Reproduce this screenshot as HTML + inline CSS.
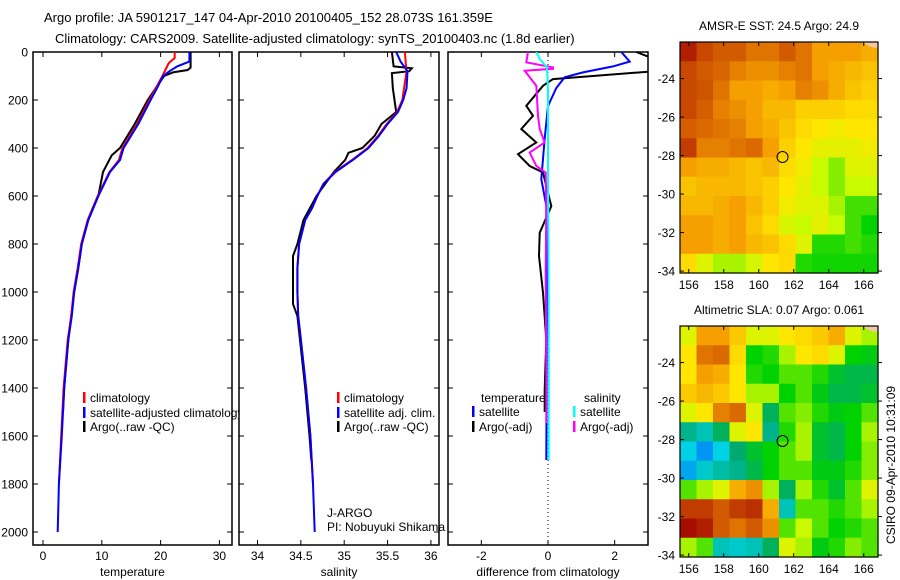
<!DOCTYPE html>
<html><head><meta charset="utf-8">
<style>
html,body{margin:0;padding:0;background:#fff;}
svg{display:block;font-family:"Liberation Sans",sans-serif;}
</style></head>
<body>
<svg id="fig" width="900" height="580" viewBox="0 0 900 580" xmlns="http://www.w3.org/2000/svg">
<defs>
<clipPath id="c1"><rect x="33" y="52" width="199" height="493"/></clipPath>
<clipPath id="c2"><rect x="239" y="52" width="200" height="493"/></clipPath>
<clipPath id="c3"><rect x="448" y="52" width="200" height="493"/></clipPath>
<clipPath id="cl1"><rect x="0" y="0" width="239" height="580"/></clipPath>
<clipPath id="cl2"><rect x="0" y="0" width="448" height="580"/></clipPath>
</defs>
<text x="44" y="22" font-size="13">Argo profile: JA 5901217_147 04-Apr-2010 20100405_152 28.073S 161.359E</text>
<text x="55" y="43" font-size="13">Climatology: CARS2009. Satellite-adjusted climatology: synTS_20100403.nc (1.8d earlier)</text>
<g id="layer"></g>
</svg>
<script>
// ---------- data ----------
const depthTicks = [0,200,400,600,800,1000,1200,1400,1600,1800,2000];
const tempTicks = [0,10,20,30];
const salTicks = [34,34.5,35,35.5,36];
const diffTicks = [-2,0,2];

const tClimDepth = [0,25,46,100,150,200,300,400,450,500,600,700,800,900,1000,1100,1200,1400,1600,1800];
const tClimVal   = [22.4,22.4,21.4,20.3,19.2,18.1,16.0,13.5,12.9,11.3,9.3,7.6,6.5,5.9,5.2,4.8,4.2,3.5,3.1,2.7];
const tSatDepth = [0,40,60,82,100,150,200,300,400,450,500,600,700,800,900,1000,1100,1200,1400,1600,1800,2000];
const tSatVal   = [24.9,24.9,22.8,21.4,20.4,19.4,18.3,16.2,13.7,13.1,11.4,9.4,7.7,6.6,6.0,5.3,4.9,4.3,3.6,3.2,2.7,2.5];
const tArgoDepth = [0,65,75,85,100,150,200,300,400,430,500,600,700,800,900,1000,1200,1400,1500];
const tArgoVal   = [25.1,25.1,24.6,22.1,20.6,19.2,17.8,15.6,13.1,11.7,10.2,9.4,7.7,6.6,6.0,5.3,4.3,3.6,3.4];

const sClimDepth = [0,50,80,200,250,300,350,400,450,500,550,600,650,700,800,900,1000,1100,1200,1400,1600,1800];
const sClimVal   = [35.70,35.71,35.72,35.67,35.61,35.49,35.39,35.27,35.09,34.89,34.76,34.69,34.63,34.55,34.48,34.46,34.46,34.47,34.5,34.56,34.61,34.64];
const sSatDepth = [0,40,80,150,200,250,300,350,400,450,500,550,600,650,700,800,900,1000,1100,1200,1400,1600,1800,2000];
const sSatVal   = [35.6,35.65,35.73,35.72,35.68,35.62,35.5,35.4,35.28,35.1,34.9,34.76,34.69,34.63,34.55,34.48,34.46,34.46,34.47,34.5,34.56,34.61,34.64,34.66];
const sArgoDepth = [0,60,68,80,88,150,250,300,350,400,420,450,500,550,600,700,800,850,1050,1100,1200,1400,1600,1700];
const sArgoVal   = [35.55,35.57,35.78,35.75,35.55,35.56,35.6,35.43,35.35,35.21,35.05,35.01,34.88,34.78,34.68,34.53,34.46,34.41,34.41,34.46,34.49,34.55,34.6,34.62];

const dTSatDepth = [0,40,60,85,105,150,225,360,530,640,920,1700];
const dTSatVal   = [2.2,2.45,1.95,1.05,0.5,0.25,0.0,-0.1,-0.2,-0.05,-0.03,-0.05];
const dTArgoDepth = [0,30,62,80,113,141,224,266,321,377,426,475,502,642,753,850,1003,1198,1407,1500];
const dTArgoVal   = [2.65,3.2,3.2,3.2,0.15,-0.15,-0.65,-0.45,-0.8,-0.35,-0.9,-0.55,-0.15,0.1,-0.25,-0.27,-0.15,-0.05,-0.1,-0.1];
const dSSatDepth = [0,29,64,150,500,1000,1700];
const dSSatVal   = [-0.35,-0.25,-0.03,0.0,0.0,0.02,0.02];
const dSArgoDepth = [0,43,64,70,78,141,266,321,377,419,475,502,642,920,1337,1546];
const dSArgoVal   = [-0.6,-0.65,0.15,0.15,-0.7,-0.35,-0.3,-0.25,-0.1,-0.55,-0.35,-0.07,-0.05,-0.07,-0.05,-0.05];

const lonTicks = [156,158,160,162,164,166];
const latTicks = [-24,-26,-28,-30,-32,-34];
const sstGrid = [
[0.95,0.88,0.85,0.85,0.8,0.8,0.85,0.8,0.72,0.72,0.72,0.7],
[0.88,0.85,0.83,0.78,0.75,0.75,0.78,0.8,0.72,0.7,0.68,0.66],
[0.88,0.86,0.8,0.72,0.72,0.7,0.72,0.78,0.75,0.7,0.66,0.64],
[0.88,0.84,0.78,0.75,0.72,0.68,0.68,0.64,0.64,0.64,0.62,0.62],
[0.84,0.82,0.8,0.78,0.72,0.7,0.66,0.62,0.6,0.58,0.6,0.6],
[0.9,0.78,0.78,0.8,0.82,0.72,0.64,0.6,0.56,0.56,0.56,0.58],
[0.72,0.7,0.7,0.68,0.66,0.68,0.62,0.58,0.52,0.48,0.55,0.55],
[0.66,0.68,0.68,0.68,0.66,0.64,0.6,0.56,0.52,0.48,0.52,0.52],
[0.68,0.68,0.7,0.72,0.68,0.64,0.58,0.55,0.55,0.5,0.44,0.44],
[0.72,0.72,0.7,0.72,0.66,0.62,0.54,0.52,0.56,0.52,0.44,0.4],
[0.72,0.72,0.7,0.72,0.68,0.66,0.62,0.55,0.42,0.42,0.44,0.42],
[0.62,0.55,0.5,0.5,0.54,0.6,0.62,0.42,0.41,0.41,0.41,0.41]];
const slaGrid = [
[0.55,0.72,0.72,0.65,0.55,0.55,0.6,0.62,0.65,0.7,0.55,0.5],
[0.6,0.8,0.82,0.62,0.4,0.42,0.5,0.6,0.62,0.55,0.4,0.38],
[0.6,0.72,0.7,0.6,0.42,0.4,0.45,0.45,0.42,0.35,0.32,0.32],
[0.65,0.68,0.65,0.6,0.5,0.5,0.4,0.45,0.38,0.32,0.32,0.35],
[0.55,0.6,0.78,0.82,0.55,0.3,0.45,0.48,0.42,0.38,0.4,0.45],
[0.25,0.2,0.3,0.55,0.6,0.25,0.42,0.5,0.35,0.32,0.4,0.5],
[0.15,0.08,0.15,0.28,0.35,0.4,0.45,0.5,0.35,0.32,0.4,0.48],
[0.1,0.18,0.22,0.25,0.32,0.4,0.45,0.45,0.38,0.38,0.42,0.48],
[0.45,0.5,0.55,0.7,0.75,0.5,0.3,0.5,0.42,0.35,0.45,0.55],
[0.9,0.9,0.85,0.9,0.92,0.7,0.2,0.45,0.45,0.42,0.45,0.5],
[0.98,0.95,0.85,0.8,0.85,0.75,0.45,0.52,0.45,0.4,0.42,0.45],
[0.5,0.45,0.2,0.18,0.2,0.3,0.55,0.5,0.38,0.42,0.48,0.45]];
const argoLon = 161.359, argoLat = -28.073;

// ---------- helpers ----------
const NS = "http://www.w3.org/2000/svg";
const layer = document.getElementById('layer');
function mk(tag, attrs, parent){
  const e = document.createElementNS(NS, tag);
  for (const k in attrs) e.setAttribute(k, attrs[k]);
  (parent||layer).appendChild(e);
  return e;
}
const yD = d => 52 + d*0.24;
const P1 = {x0:33,x1:232,min:-0.6814,max:(232-43)/5.88, sx:v=>43+v*5.88};
const P2 = {x0:239,x1:439, sx:v=>257.5+(v-34)*86.7};
const P3 = {x0:448,x1:648, sx:v=>548+v*33.33};
const TOP=52, BOT=545;

function frame(p, name){
  const r = mk('rect',{x:p.x0,y:TOP,width:p.x1-p.x0,height:BOT-TOP,fill:'#fff',stroke:'#000','stroke-width':1.5});
  
  
}
function yticks(p, labels){
  depthTicks.forEach(d=>{
    const y=yD(d);
    mk('line',{x1:p.x0,x2:p.x0+5,y1:y,y2:y,stroke:'#000'});
    mk('line',{x1:p.x1-5,x2:p.x1,y1:y,y2:y,stroke:'#000'});
    if(labels){
      const t=mk('text',{x:28,y:y+4.5,'font-size':12,'text-anchor':'end'});
      t.textContent=d;
      
      
    }
  });
}
function xticks(p, ticks, label){
  ticks.forEach(v=>{
    const x=p.sx(v);
    mk('line',{x1:x,x2:x,y1:BOT,y2:BOT-5,stroke:'#000'});
    mk('line',{x1:x,x2:x,y1:TOP,y2:TOP+5,stroke:'#000'});
    const t=mk('text',{x:x,y:560,'font-size':12,'text-anchor':'middle'});
    t.textContent=v;
    
    
  });
  const t=mk('text',{x:(p.x0+p.x1)/2,y:576,'font-size':12,'text-anchor':'middle'});
  t.textContent=label;
  
  
}
function series(p, depths, vals, color, clip, name){
  const pts = depths.map((d,i)=>p.sx(vals[i]).toFixed(1)+','+yD(d).toFixed(1)).join(' ');
  const e = mk('polyline',{points:pts,fill:'none',stroke:color,'stroke-width':2,'clip-path':'url(#'+clip+')'});
  
  
}
function legend(x, y, color, text, clip){
  const m=mk('rect',{x:x,y:y-10,width:2.5,height:11,fill:color});
  
  
  const t=mk('text',{x:x+7,y:y,'font-size':12});
  if(clip) t.setAttribute('clip-path','url(#'+clip+')');
  t.textContent=text;
  
  
}

// ---------- panel 1: temperature ----------
frame(P1,'temperature-panel');
series(P1,tArgoDepth,tArgoVal,'#000','c1','temp-argo-line');
series(P1,tClimDepth,tClimVal,'#f00','c1','temp-climatology-line');
series(P1,tSatDepth,tSatVal,'#00f','c1','temp-satellite-line');
yticks(P1,true); xticks(P1,tempTicks,'temperature');
legend(83,402,'#f00','climatology');
legend(83,417,'#00f','satellite-adjusted climatology','cl1');
legend(83,431,'#000','Argo(..raw -QC)');

// ---------- panel 2: salinity ----------
frame(P2,'salinity-panel');
series(P2,sArgoDepth,sArgoVal,'#000','c2','sal-argo-line');
series(P2,sClimDepth,sClimVal,'#f00','c2','sal-climatology-line');
series(P2,sSatDepth,sSatVal,'#00f','c2','sal-satellite-line');
yticks(P2,false); xticks(P2,salTicks,'salinity');
legend(337,402,'#f00','climatology');
legend(337,417,'#00f','satellite adj. clim.');
legend(337,431,'#000','Argo(..raw -QC)');
let t=mk('text',{x:327,y:517,'font-size':12}); t.textContent='J-ARGO';
 
t=mk('text',{x:327,y:531,'font-size':12,'clip-path':'url(#cl2)'}); t.textContent='PI: Nobuyuki Shikama';
 

// ---------- panel 3: differences ----------
frame(P3,'difference-panel');
const zl=mk('line',{x1:P3.sx(0),x2:P3.sx(0),y1:TOP,y2:BOT,stroke:'#000','stroke-dasharray':'1,3'});
 
series(P3,dTArgoDepth,dTArgoVal,'#000','c3','diff-temp-argo-line');
series(P3,dTSatDepth,dTSatVal,'#00f','c3','diff-temp-satellite-line');
series(P3,dSArgoDepth,dSArgoVal,'#f0f','c3','diff-sal-argo-line');
series(P3,dSSatDepth,dSSatVal,'#0ff','c3','diff-sal-satellite-line');
yticks(P3,false); xticks(P3,diffTicks,'difference from climatology');
t=mk('text',{x:481,y:402,'font-size':12}); t.textContent='temperature';
 
t=mk('text',{x:584,y:402,'font-size':12}); t.textContent='salinity';
 
legend(472,416,'#00f','satellite');
legend(472,431,'#000','Argo(-adj)');
legend(573,416,'#0ff','satellite');
legend(573,431,'#f0f','Argo(-adj)');

// ---------- maps ----------
const stops=[[0,[0,80,255]],[0.15,[0,210,230]],[0.28,[0,170,110]],[0.4,[0,210,0]],[0.52,[200,250,0]],[0.6,[255,230,0]],[0.72,[245,160,0]],[0.85,[210,90,0]],[1,[160,0,0]]];
function cmap(v){
  for(let i=1;i<stops.length;i++){
    if(v<=stops[i][0]){
      const a=stops[i-1],b=stops[i],f=(v-a[0])/(b[0]-a[0]);
      return 'rgb('+a[1].map((c,j)=>Math.round(c+(b[1][j]-c)*f)).join(',')+')';
    }
  }
  return 'rgb(160,0,0)';
}
function map(y0, y1, grid, title, name){
  const x0=680,x1=878;
  const lonX=l=>x0+(l-155.5)*17.5;
  const latY=la=>y0+(-22.1-la)*((y1-y0)/((-22.1)-(-34.1)));
  const g=mk('g',{});
  
  
  const rows=grid.length, cols=grid[0].length;
  const cw=(x1-x0)/cols, ch=(y1-y0)/rows;
  grid.forEach((row,r)=>row.forEach((v,c)=>{
    const cell=mk('rect',{x:(x0+c*cw).toFixed(2),y:(y0+r*ch).toFixed(2),width:(cw+0.6).toFixed(2),height:(ch+0.6).toFixed(2),fill:cmap(v)},g);
    
    
  }));
  mk('path',{d:`M${x1-16},${y0} L${x1},${y0} L${x1},${y0+6} Q${x1-8},${y0+6} ${x1-16},${y0}Z`,fill:'#f5c6a5'},g);
  mk('rect',{x:x0,y:y0,width:x1-x0,height:y1-y0,fill:'none',stroke:'#000','stroke-width':1.2},g);
  lonTicks.forEach(l=>{
    const x=lonX(l);
    mk('line',{x1:x,x2:x,y1:y1,y2:y1-4,stroke:'#000'},g);
    mk('line',{x1:x,x2:x,y1:y0,y2:y0+4,stroke:'#000'},g);
    const tt=mk('text',{x:x,y:y1+16,'font-size':12,'text-anchor':'middle'},g);
    tt.textContent=l;
    
    
  });
  latTicks.forEach(la=>{
    const y=latY(la);
    mk('line',{x1:x0,x2:x0+4,y1:y,y2:y,stroke:'#000'},g);
    mk('line',{x1:x1,x2:x1+4,y1:y,y2:y,stroke:'#000'},g);
    const tt=mk('text',{x:675,y:y+4.5,'font-size':12,'text-anchor':'end'},g);
    tt.textContent=la;
    
    
  });
  const c=mk('circle',{cx:lonX(argoLon),cy:latY(argoLat),r:5.5,fill:'none',stroke:'#000','stroke-width':1},g);
  
  
  const tt=mk('text',{x:(x0+x1)/2,y:y0-12,'font-size':12,'text-anchor':'middle'},g);
  tt.textContent=title;
  
  
}
map(42,273,sstGrid,'AMSR-E SST: 24.5 Argo: 24.9','sst-map');
map(326,557,slaGrid,'Altimetric SLA: 0.07 Argo: 0.061','sla-map');
t=mk('text',{x:0,y:0,'font-size':12,'text-anchor':'middle',transform:'translate(895,465) rotate(-90)'});
t.textContent='CSIRO 09-Apr-2010 10:31:09';


</script>
</body></html>
